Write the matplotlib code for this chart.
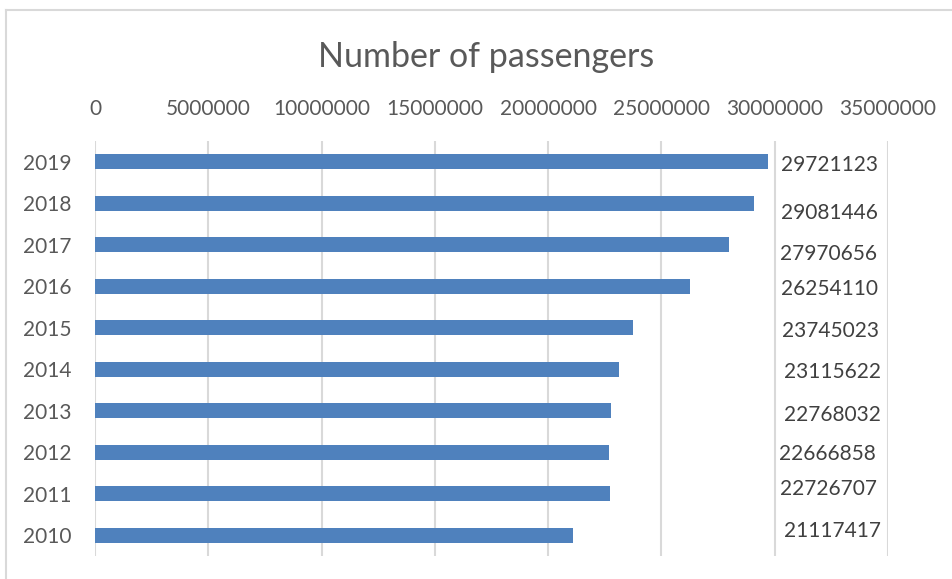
import matplotlib
matplotlib.use("Agg")
import matplotlib.pyplot as plt
from matplotlib.lines import Line2D

years = ["2010", "2011", "2012", "2013", "2014", "2015", "2016", "2017", "2018", "2019"]
passengers = [21117417, 22726707, 22666858, 22768032, 23115622,
              23745023, 26254110, 27970656, 29081446, 29721123]
x_ticks = [0, 5000000, 10000000, 15000000, 20000000, 25000000, 30000000, 35000000]

# hand-placed data labels in the original (pixel nudges: right, down)
label_dx = [3, -1, -2, 3, 3, 1, 0, -1, 0, 0]
label_dy = [-6, -6.5, 0, 2.5, 1, 1.5, 1, 7.5, 8, 1.5]

plt.rcParams["font.family"] = ["Lato", "DejaVu Sans"]
TEXT = "#595959"
GRID = "#d9d9d9"
BAR = "#4f81bd"
FS = 15

fig = plt.figure(figsize=(9.53, 5.79), dpi=100)
W, H = 953, 579
ax = fig.add_axes([95 / W, 1 - 556 / H, (888 - 95) / W, (556 - 141) / H])

pos = list(range(len(years)))
ax.barh(pos, passengers, height=0.36, color=BAR, zorder=3)

ax.set_xlim(0, 35000000)
ax.set_ylim(-0.5, len(years) - 0.5)
ax.set_xticks(x_ticks)
ax.set_xticklabels([str(t) for t in x_ticks])
ax.set_yticks(pos)
ax.set_yticklabels(years)
ax.xaxis.tick_top()
ax.tick_params(axis="x", length=0, pad=16, labelsize=FS, labelcolor=TEXT)
ax.tick_params(axis="y", length=0, pad=17, labelsize=FS, labelcolor=TEXT)
ax.grid(axis="x", color=GRID, linewidth=1.5, zorder=0)
ax.grid(axis="y", visible=False)
for s in ax.spines.values():
    s.set_visible(False)

px = 72 / 100
label_x = 32400000
for i, v in enumerate(passengers):
    ax.annotate(str(v), xy=(label_x, i), xytext=(label_dx[i] * px, -(label_dy[i] + 2) * px),
                textcoords="offset points", ha="center", va="center",
                fontsize=FS, color="#404040", zorder=4)

fig.text(486 / W, 1 - 57 / H, "Number of passengers", ha="center", va="center",
         fontsize=24.5, color=TEXT)

# outer chart frame (top and left edges visible)
fig.add_artist(Line2D([6 / W, 1], [1 - 10 / H, 1 - 10 / H], transform=fig.transFigure,
                      color=GRID, linewidth=1.5))
fig.add_artist(Line2D([6 / W, 6 / W], [0, 1 - 10 / H], transform=fig.transFigure,
                      color=GRID, linewidth=1.5))

fig.savefig("out.png", dpi=100, facecolor="white")
